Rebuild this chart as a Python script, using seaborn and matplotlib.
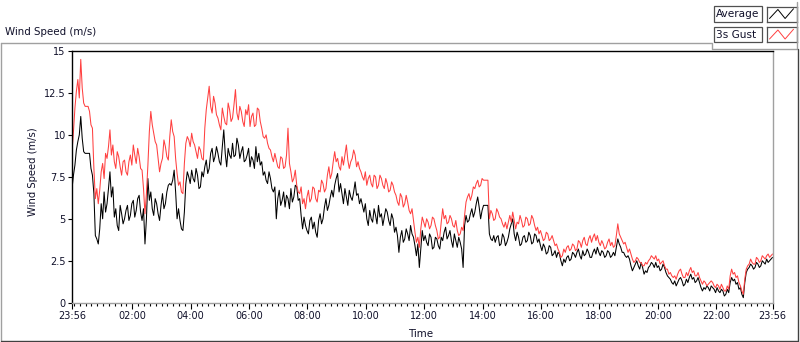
import matplotlib
matplotlib.use("Agg")
import matplotlib.pyplot as plt
import matplotlib.dates as mdates
from matplotlib.lines import Line2D
from matplotlib.patches import Rectangle
import pandas as pd
import seaborn as sns

# --- Data (one sample every 3 minutes) ---

START = "2020-01-01 23:56"
STEP = "3min"

# one row per hour of the record
avg_speed = [
    6.8, 7.6, 8.2, 9.1, 9.6, 10.0, 11.1, 9.8, 9.0, 8.9, 8.9, 8.9, 8.9, 8.0, 7.6, 6.5, 4.0, 3.8, 3.5, 4.4,
    5.9, 5.0, 6.6, 5.4, 5.9, 6.8, 7.8, 6.3, 6.9, 5.1, 5.6, 4.6, 4.3, 5.8, 5.3, 4.7, 5.0, 5.5, 5.8, 4.9,
    5.2, 5.9, 6.1, 5.1, 5.5, 6.2, 6.4, 5.4, 4.9, 5.6, 3.5, 5.0, 7.4, 6.1, 6.6, 5.6, 5.2, 6.2, 5.9, 5.3,
    4.9, 5.8, 6.5, 5.6, 5.9, 6.6, 7.0, 7.1, 7.0, 7.3, 7.9, 6.6, 5.0, 5.6, 4.9, 4.4, 4.3, 5.4, 7.1, 7.8,
    7.5, 7.1, 7.9, 7.4, 7.2, 8.0, 7.6, 6.8, 6.9, 7.8, 7.5, 8.1, 8.5, 7.7, 8.0, 8.9, 9.2, 8.4, 8.7, 9.3,
    8.9, 8.4, 8.2, 9.3, 10.3, 8.9, 8.1, 9.2, 8.8, 8.6, 9.5, 8.7, 8.8, 9.8, 9.4, 8.6, 9.0, 9.3, 8.4, 8.5,
    8.8, 9.2, 8.1, 8.7, 8.5, 8.0, 9.3, 8.4, 8.9, 8.2, 8.4, 7.6, 7.8, 7.3, 7.1, 7.8, 7.4, 6.8, 6.6, 6.9,
    5.0, 6.2, 6.7, 5.8, 6.1, 6.6, 5.7, 6.4, 6.2, 5.6, 6.8, 6.0, 6.3, 7.0, 6.9, 6.1, 6.2, 5.2, 4.4, 5.1,
    4.6, 4.3, 4.1, 4.9, 5.1, 4.4, 4.8, 4.2, 3.9, 4.9, 5.3, 4.7, 5.0, 5.7, 6.2, 5.5, 5.8, 6.3, 6.7, 6.3,
    7.0, 7.4, 7.7, 6.6, 7.1, 6.5, 5.9, 6.8, 6.3, 5.8, 6.7, 6.3, 6.1, 6.6, 7.2, 6.4, 6.5, 5.9, 6.2, 5.8,
    5.4, 5.9, 5.0, 4.6, 5.5, 5.0, 4.8, 5.6, 5.2, 4.7, 5.8, 5.1, 5.3, 4.6, 5.1, 5.6, 5.4, 4.9, 4.6, 5.3,
    5.0, 4.2, 4.5, 4.0, 3.0, 3.9, 4.3, 3.6, 3.8, 4.4, 4.1, 3.7, 4.6, 4.1, 3.9, 3.4, 2.8, 3.5, 2.1, 3.2,
    4.3, 3.7, 4.0, 3.6, 3.4, 4.1, 3.9, 3.2, 3.3, 3.9, 3.8, 3.4, 3.2, 3.9, 3.7, 4.2, 4.5, 3.8, 4.0, 4.3,
    3.7, 3.3, 4.1, 3.7, 3.3, 3.9, 3.6, 3.2, 2.1, 4.6, 5.2, 4.8, 4.9, 5.3, 5.6, 5.1, 5.4, 5.9, 6.3, 5.7,
    5.0, 5.5, 5.8, 5.8, 5.8, 5.8, 4.1, 3.8, 3.7, 4.0, 3.6, 3.9, 4.0, 3.4, 3.5, 4.1, 3.9, 3.4, 3.6, 3.9,
    4.4, 4.7, 5.0, 4.1, 3.7, 4.2, 3.9, 3.4, 3.5, 3.9, 4.0, 3.6, 3.7, 4.2, 4.0, 3.5, 3.6, 4.1, 4.0, 3.6,
    3.8, 3.4, 3.1, 3.5, 3.3, 2.9, 3.0, 3.4, 3.3, 2.8, 2.9, 3.1, 2.7, 3.0, 2.9, 2.5, 2.2, 2.6, 2.4, 2.7,
    2.8, 2.5, 2.6, 3.0, 2.9, 2.7, 3.0, 3.2, 2.8, 2.6, 3.1, 2.8, 2.9, 3.2, 3.0, 2.7, 2.7, 3.0, 3.2, 2.9,
    3.3, 3.0, 2.8, 3.1, 3.0, 2.7, 2.8, 3.1, 3.0, 2.7, 2.8, 3.0, 2.8, 3.3, 3.8, 3.5, 3.3, 3.0, 3.0, 2.8,
    2.7, 2.8, 2.6, 2.2, 1.9, 2.1, 2.3, 2.5, 2.2, 2.0, 2.4, 2.1, 1.7, 1.9, 1.8, 2.1, 2.2, 2.4, 2.3, 2.1,
    2.4, 2.1, 2.2, 1.9, 2.0, 2.3, 2.1, 1.8, 1.6, 1.5, 1.4, 1.2, 1.1, 1.3, 1.0, 1.2, 1.4, 1.5, 1.3, 1.0,
    1.1, 1.4, 1.2, 1.5, 1.7, 1.4, 1.5, 1.2, 1.3, 1.5, 1.2, 0.9, 0.7, 0.9, 0.8, 1.0, 0.9, 0.7, 1.0, 0.9,
    0.8, 0.6, 0.9, 0.7, 0.6, 0.8, 0.7, 0.4, 0.5, 0.8, 0.6, 1.2, 1.5, 1.3, 1.4, 1.1, 1.2, 0.8, 0.9, 0.5,
    0.3, 1.2, 1.8, 2.0, 2.1, 2.3, 2.2, 2.0, 2.1, 2.4, 2.3, 2.1, 2.2, 2.5, 2.4, 2.3, 2.6, 2.4, 2.5, 2.6,
    2.7,
]

gust_speed = [
    9.0, 10.2, 11.6, 12.6, 13.3, 12.2, 14.5, 12.8, 11.9, 11.7, 11.7, 11.7, 11.4, 10.6, 10.4, 8.0, 6.2, 6.8, 5.9, 6.7,
    7.8, 8.3, 7.4, 8.9, 8.6, 9.3, 10.3, 8.8, 9.4, 8.4, 8.0, 9.0, 8.7, 8.1, 7.6, 8.4, 8.5, 7.8, 7.6, 8.4,
    8.8, 8.2, 9.4, 8.8, 8.3, 9.2, 8.7, 8.0, 7.9, 6.8, 5.3, 6.5, 8.2, 10.2, 11.4, 10.6, 10.1, 9.6, 9.4, 8.6,
    7.8, 8.3, 8.6, 9.7, 9.3, 8.7, 8.5, 9.9, 10.9, 10.2, 9.9, 8.6, 7.7, 7.0, 7.2, 6.6, 6.5, 8.3, 9.5, 9.9,
    9.7, 9.3, 10.1, 9.6, 9.4, 9.0, 8.6, 9.3, 9.1, 8.6, 8.5, 10.4, 11.5, 12.2, 12.9, 11.7, 11.3, 12.3, 11.9, 11.2,
    11.0, 10.6, 10.3, 11.6, 11.1, 10.7, 10.6, 11.9, 11.5, 10.8, 11.0, 11.8, 12.7, 11.3, 10.9, 11.7, 11.4, 10.8, 10.5, 11.5,
    11.2, 11.8, 10.5, 11.1, 11.3, 10.5, 10.6, 11.6, 11.5, 10.8, 10.4, 9.9, 9.8, 10.0, 9.5, 9.2, 9.1, 8.7, 8.4, 8.9,
    8.5, 8.1, 8.0, 8.7, 8.6, 8.0, 8.1, 8.8, 10.4, 8.3, 7.8, 7.2, 7.4, 7.9, 7.0, 6.6, 6.5, 6.9, 5.9, 6.2,
    5.6, 6.3, 6.7, 6.0, 6.2, 6.9, 6.8, 6.2, 6.0, 6.7, 6.6, 7.3, 7.1, 6.6, 6.8, 7.6, 8.1, 7.4, 7.7, 8.4,
    9.0, 8.4, 8.6, 8.1, 7.9, 8.7, 8.2, 8.8, 9.4, 8.5, 8.0, 8.4, 8.6, 9.1, 8.8, 8.1, 8.4, 8.0, 7.8, 7.5,
    7.3, 7.8, 7.0, 7.4, 7.6, 7.1, 6.9, 7.6, 7.5, 6.8, 7.0, 7.6, 7.4, 7.0, 6.8, 7.4, 7.1, 6.6, 6.7, 7.2,
    7.0, 6.6, 6.4, 6.0, 5.8, 6.5, 6.3, 5.7, 5.9, 6.4, 6.0, 5.5, 5.3, 5.6, 4.9, 4.2, 3.6, 3.9, 3.3, 4.4,
    5.1, 4.8, 4.5, 5.0, 4.8, 4.4, 4.6, 5.1, 5.0, 4.6, 4.3, 3.8, 3.9, 4.8, 5.6, 5.0, 5.2, 4.7, 4.8, 5.2,
    5.0, 4.6, 4.5, 4.9, 4.3, 4.0, 4.1, 4.5, 4.3, 5.2, 6.0, 6.3, 6.5, 6.1, 6.4, 6.9, 6.8, 7.1, 7.3, 6.9,
    7.0, 7.4, 7.3, 7.3, 7.3, 7.3, 5.0, 5.5, 5.3, 4.9, 5.0, 5.6, 5.4, 5.1, 5.0, 4.7, 4.5, 4.8, 4.4, 4.8,
    5.2, 4.8, 5.4, 4.9, 4.4, 4.8, 4.7, 5.2, 4.9, 4.5, 4.6, 5.1, 5.0, 4.6, 4.7, 5.2, 5.0, 4.6, 4.3, 4.5,
    4.1, 4.3, 4.0, 3.7, 3.8, 4.2, 4.1, 3.7, 3.8, 4.0, 3.7, 3.4, 3.5, 3.2, 3.0, 2.7, 2.8, 3.2, 3.0, 3.3,
    3.4, 3.1, 3.2, 3.5, 3.4, 3.1, 3.2, 3.7, 3.6, 3.3, 3.7, 3.9, 3.5, 3.4, 3.8, 4.0, 3.6, 3.9, 4.1, 3.7,
    4.0, 3.6, 3.4, 3.7, 3.5, 3.2, 3.3, 3.6, 3.8, 3.4, 3.6, 3.3, 3.4, 4.0, 4.7, 4.1, 3.9, 3.7, 3.5, 3.6,
    3.3, 3.0, 3.2, 2.9, 2.6, 2.4, 2.5, 2.7, 2.6, 2.4, 2.4, 2.2, 2.2, 2.4, 2.3, 2.5, 2.6, 2.8, 2.7, 2.6,
    2.8, 2.5, 2.6, 2.3, 2.4, 2.5, 2.2, 2.0, 2.0, 1.7, 1.8, 1.6, 1.5, 1.6, 1.4, 1.7, 1.9, 2.0, 1.7, 1.5,
    1.5, 1.8, 1.6, 1.9, 2.1, 1.8, 1.9, 1.6, 1.6, 1.8, 1.5, 1.3, 1.1, 1.3, 1.2, 1.0, 1.1, 1.2, 1.3, 1.2,
    1.0, 0.9, 1.1, 1.0, 0.8, 1.1, 0.9, 0.7, 0.7, 1.0, 0.8, 1.6, 2.0, 1.7, 1.8, 1.5, 1.6, 1.2, 1.0, 0.7,
    0.5, 1.4, 2.0, 2.2, 2.3, 2.6, 2.4, 2.3, 2.3, 2.7, 2.6, 2.4, 2.5, 2.8, 2.7, 2.6, 2.8, 2.9, 2.7, 2.8,
    2.9,
]

series_names = ["Average", "3s Gust"]
series_colors = ["#000000", "#ff4040"]

y_ticks = [0, 2.5, 5, 7.5, 10, 12.5, 15]
y_tick_labels = ["0", "2.5", "5", "7.5", "10", "12.5", "15"]
x_major_clock = ["02:00", "04:00", "06:00", "08:00", "10:00",
                 "12:00", "14:00", "16:00", "18:00", "20:00", "22:00"]

# --- Figure ---

sns.set_style("white")
plt.rcParams["font.family"] = ["DejaVu Sans"]
TXT = "#10102a"
W, H = 800, 342

fig = plt.figure(figsize=(W / 100, H / 100), dpi=100)
ax = fig.add_axes([72 / W, 1 - 302.7 / H, 700.5 / W, 251.7 / H])

times = pd.date_range(START, periods=len(avg_speed), freq=STEP)
df = pd.DataFrame({"time": times, "Average": avg_speed, "3s Gust": gust_speed})

for name, color in zip(series_names, series_colors):
    sns.lineplot(data=df, x="time", y=name, ax=ax, color=color,
                 linewidth=0.75, estimator=None, legend=False)

t0 = pd.Timestamp(START)
t_end = t0 + pd.Timedelta(hours=24)
next_day = (t0 + pd.Timedelta(days=1)).strftime("%Y-%m-%d")
majors = [t0] + [pd.Timestamp(f"{next_day} {c}") for c in x_major_clock] + [t_end]
minors = pd.date_range(f"{next_day} 00:00", f"{next_day} 23:48", freq="12min")

ax.set_xlim(t0, t_end)
ax.set_ylim(0, 15)
ax.set_xticks(majors)
ax.set_xticks(minors, minor=True)
ax.xaxis.set_major_formatter(mdates.DateFormatter("%H:%M"))
ax.set_yticks(y_ticks)
ax.set_yticklabels(y_tick_labels)
ax.set_xlabel("")
ax.set_ylabel("")

ax.tick_params(axis="x", which="major", direction="out", length=4, width=0.8,
               color="#000000", labelsize=7, labelcolor=TXT, pad=2)
ax.tick_params(axis="x", which="minor", direction="out", length=2.4, width=0.8,
               color="#000000")
ax.tick_params(axis="y", direction="out", length=3, width=0.8,
               color="#000000", labelsize=7, labelcolor=TXT, pad=1.5)
ax.tick_params(bottom=True, left=True, which="both")

for side in ["left", "top"]:
    ax.spines[side].set_color("#000000")
    ax.spines[side].set_linewidth(1.0)
for side in ["right", "bottom"]:
    ax.spines[side].set_color("#a0a0a0")
    ax.spines[side].set_linewidth(1.0)

# Titles / labels
fig.text(5 / W, 1 - 32 / H, "Wind Speed (m/s)", fontsize=7.4, color=TXT, va="center")
fig.text(33 / W, 1 - 172 / H, "Wind Speed (m/s)", fontsize=7.2, color=TXT,
         rotation=90, ha="center", va="center")
fig.text(421 / W, 1 - 334 / H, "Time", fontsize=7.4, color=TXT, ha="center", va="center")

# Outer frame of the graph panel
def fig_line(xs, ys, color="#a0a0a0", lw=1.0):
    fig.add_artist(Line2D([x / W for x in xs], [1 - y / H for y in ys],
                          transform=fig.transFigure, color=color, linewidth=lw))

fig_line([0.5, 712, 712, 797, 797], [42.5, 42.5, 48.5, 48.5, 2])
fig_line([0.5, 0.5], [42.5, 341])
fig_line([0.5, 797.5], [340.5, 340.5], color="#404040")
fig_line([797.5, 797.5], [48.5, 341], color="#404040")

# Legend: label boxes plus icon boxes
for i, (name, color) in enumerate(zip(series_names, series_colors)):
    top = 6.5 + i * 20.5
    fig.add_artist(Rectangle((714 / W, 1 - (top + 15) / H), 48 / W, 15 / H,
                             transform=fig.transFigure, fc="white", ec="#505050", lw=0.9))
    fig.text(716 / W, 1 - (top + 7.5) / H, name, fontsize=7.6, color=TXT, va="center")
    iax = fig.add_axes([766.5 / W, 1 - (top + 15) / H, 30 / W, 15 / H])
    iax.plot([0.1, 0.38, 0.62, 0.9], [0.2, 0.8, 0.2, 0.85], color=color, linewidth=0.7)
    iax.set_xlim(0, 1)
    iax.set_ylim(0, 1)
    iax.set_xticks([])
    iax.set_yticks([])
    for s in iax.spines.values():
        s.set_color("#505050")
        s.set_linewidth(0.9)

fig.savefig("out.png", dpi=100)
